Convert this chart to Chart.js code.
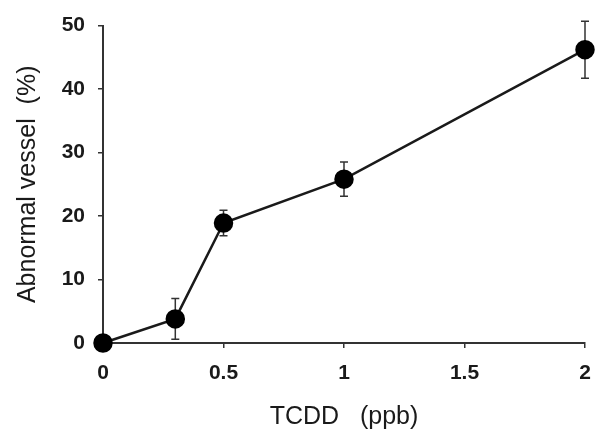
<!DOCTYPE html>
<html>
<head>
<meta charset="utf-8">
<script src="https://cdn.jsdelivr.net/npm/chart.js@4"></script>
<style>
  html, body { margin: 0; padding: 0; background: #fff; }
  #wrap { width: 609px; height: 440px; }
</style>
</head>
<body>
<div id="wrap"><canvas id="doseChart" width="609" height="440"></canvas></div>
<script>
// data
const doses = [0, 0.3, 0.5, 1, 2];          // TCDD (ppb)
const abnormal = [0, 3.8, 18.9, 25.8, 46.2]; // abnormal vessel (%)
const errors = [0, 3.2, 2.0, 2.7, 4.5];      // +/- error
const xTicks = [0, 0.5, 1, 1.5, 2];
const yTicks = [0, 10, 20, 30, 40, 50];

const ink = '#1a1a1a';

// error bars drawn through the chart scales, under the points
const errorBars = {
    id: 'errorBars',
    beforeDatasetsDraw(chart) {
        const ctx = chart.ctx;
        const x = chart.scales.x, y = chart.scales.y;
        ctx.save();
        ctx.strokeStyle = '#333';
        ctx.lineWidth = 1.5;
        doses.forEach(function(d, i) {
            if (!errors[i]) return;
            const px = x.getPixelForValue(d);
            const top = y.getPixelForValue(abnormal[i] + errors[i]);
            const bot = y.getPixelForValue(abnormal[i] - errors[i]);
            ctx.beginPath();
            ctx.moveTo(px, top); ctx.lineTo(px, bot);
            ctx.moveTo(px - 4, top); ctx.lineTo(px + 4, top);
            ctx.moveTo(px - 4, bot); ctx.lineTo(px + 4, bot);
            ctx.stroke();
        });
        ctx.restore();
    }
};

document.addEventListener('DOMContentLoaded', function() {
    const ctx = document.getElementById('doseChart').getContext('2d');
    new Chart(ctx, {
        type: 'scatter',
        data: {
            datasets: [{
                data: doses.map((d, i) => ({ x: d, y: abnormal[i] })),
                showLine: true,
                borderColor: ink,
                borderWidth: 2.5,
                backgroundColor: '#000',
                pointBackgroundColor: '#000',
                pointBorderColor: '#000',
                pointRadius: 8.5,
                pointHoverRadius: 8.5,
                clip: false
            }]
        },
        options: {
            responsive: false,
            animation: false,
            events: [],
            layout: { padding: { left: 0, right: 24, top: 23, bottom: 0 } },
            plugins: {
                legend: { display: false },
                tooltip: { enabled: false }
            },
            scales: {
                x: {
                    type: 'linear',
                    min: 0,
                    max: 2,
                    afterFit: s => { s.height = 97; },
                    afterBuildTicks: s => { s.ticks = xTicks.map(v => ({ value: v })); },
                    border: { display: true, color: '#333', width: 2 },
                    grid: { drawOnChartArea: false, drawTicks: true, tickLength: 5, color: '#333', lineWidth: 1.5 },
                    ticks: {
                        padding: 13,
                        color: ink,
                        font: { family: 'Liberation Sans, Arial', size: 21, weight: 'bold' },
                        callback: v => String(v)
                    },
                    title: {
                        display: true,
                        text: 'TCDD   (ppb)',
                        color: ink,
                        padding: { top: 0, bottom: 8 },
                        font: { family: 'Liberation Sans, Arial', size: 25 }
                    }
                },
                y: {
                    min: 0,
                    max: 50,
                    afterFit: s => { s.width = 103; },
                    afterBuildTicks: s => { s.ticks = yTicks.map(v => ({ value: v })); },
                    border: { display: true, color: '#333', width: 2 },
                    grid: { drawOnChartArea: false, drawTicks: true, tickLength: 5, color: '#333', lineWidth: 1.5 },
                    ticks: {
                        padding: 13,
                        color: ink,
                        font: { family: 'Liberation Sans, Arial', size: 21, weight: 'bold' }
                    },
                    title: {
                        display: true,
                        text: 'Abnormal vessel  (%)',
                        color: ink,
                        padding: { top: 13, bottom: 0 },
                        font: { family: 'Liberation Sans, Arial', size: 25 }
                    }
                }
            }
        },
        plugins: [errorBars]
    });
});
</script>
</body>
</html>
